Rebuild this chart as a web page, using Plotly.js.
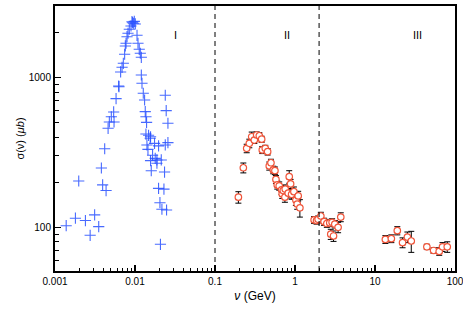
<!DOCTYPE html>
<html>
<head>
<meta charset="utf-8">
<script src="https://cdn.plot.ly/plotly-3.0.1.min.js"></script>
<style>
  html, body { margin: 0; padding: 0; background: #fff; }
  #chart { width: 463px; height: 327px; }
</style>
</head>
<body>
<div id="chart"></div>
<script>
// Region I: photon data, blue crosses (nu in GeV, sigma in microbarn)
const nuI = [0.00917, 0.00961, 0.01009, 0.0093, 0.0098, 0.00891,
  0.00849, 0.00818, 0.00795, 0.00773, 0.00757, 0.00742, 0.00715, 0.00689, 0.00661,
  0.00625, 0.0063, 0.0058, 0.00541, 0.00506, 0.00478, 0.00547, 0.00461, 0.00418,
  0.0038, 0.00394, 0.00435, 0.00198, 0.00313, 0.0018, 0.0024, 0.00138, 0.00352, 0.00275,
  0.0106, 0.0109, 0.0113, 0.01165, 0.012, 0.012, 0.01223, 0.01269, 0.01318, 0.01343,
  0.0137, 0.01395, 0.01478, 0.01565, 0.0137, 0.0155, 0.0141, 0.01452, 0.01755, 0.0197,
  0.0239, 0.0258, 0.01658, 0.0179, 0.01565, 0.0188, 0.0213, 0.0188, 0.01597, 0.0234,
  0.0197, 0.023, 0.0205, 0.0217, 0.0248, 0.0208, 0.0239, 0.02455, 0.0258];
const sigI = [2367, 2310, 2286, 2330, 2380, 2216,
  2106, 1981, 1879, 1698, 1629, 1434, 1248, 1173, 1092,
  880, 870, 724, 590, 548, 506, 506, 459, 335,
  249, 192, 176, 204, 121, 115, 111, 102.5, 101, 88.4,
  1920, 1698, 1548, 1456, 1368, 1042, 918, 787, 709, 593,
  548, 503, 412, 403, 420, 394, 355, 332, 364, 350,
  355, 368, 303, 289, 279, 282, 282, 268, 239, 234,
  182, 180, 146, 132, 130.5, 77, 763, 602, 496];

// Regions II and III: circles with error bars
const nuII = [0.196, 0.226, 0.249, 0.2685, 0.2877, 0.31, 0.332, 0.358, 0.383, 0.39,
  0.425, 0.455, 0.477, 0.5006, 0.535, 0.561, 0.578, 0.6, 0.635, 0.68, 0.692, 0.713,
  0.748, 0.755, 0.823, 0.847, 0.881, 0.907, 0.969, 1.026, 1.065, 1.096, 1.151,
  1.735, 1.86, 1.946, 2.104, 2.31, 2.5, 2.72, 2.8, 2.91, 3.03, 3.145, 3.457, 3.735,
  13.48, 16.0, 19.0, 22.1, 25.4, 28.4, 44.5, 54, 63.5, 69.8, 80];
const sigII = [159, 250, 337, 364, 403, 383, 414, 409, 388, 329,
  337, 320, 257, 270, 242, 239, 209, 192, 189, 178, 167, 176,
  159, 180, 169, 218, 195, 166, 173, 152, 143, 162, 135,
  112, 111, 113, 119, 109, 106, 107, 90, 108, 87.5, 105, 100, 117,
  83, 84, 95, 79, 86, 81, 74, 70, 69, 74, 74];
const errII = [14, 19, 22, 24, 30, 20, 20, 20, 18, 18,
  16, 16, 16, 15, 14, 14, 13, 12, 12, 12, 11, 11,
  12, 12, 12, 21, 14, 12, 13, 12, 11, 12, 18,
  6, 6, 6, 7, 6, 6, 6, 7, 6, 7, 6, 8, 8,
  5, 5, 6, 6, 7, 13, 3, 3, 4, 5, 6];

const regionBounds = [0.1, 2];
const regionLabels = ['I', 'II', 'III'];
const regionLabelNu = [0.032, 0.79, 34];

// axis ranges (log10 units)
const xRange = [-3, 2];
const yRange = [1.708, 3.479];

const font = 'Liberation Sans, Arial, Helvetica, sans-serif';

const traces = [{
  x: nuI, y: sigI,
  type: 'scatter', mode: 'markers',
  marker: {
    symbol: 'cross-thin-open', size: 8, color: 'rgba(40,80,255,0.85)',
    line: { color: 'rgba(40,80,255,0.85)', width: 1.1 }
  }
}, {
  x: nuII, y: sigII,
  type: 'scatter', mode: 'markers',
  error_y: { type: 'data', array: errII, visible: true, color: '#000', thickness: 1, width: 3 },
  marker: {
    symbol: 'circle', size: 6.5, color: '#fff',
    line: { color: '#f0553a', width: 1.2 }
  }
}];

// shapes on log axes take data values in plotly v3
const shapes = regionBounds.map(b => ({
  type: 'line', xref: 'x', yref: 'paper',
  x0: b, x1: b, y0: 0, y1: 1,
  line: { color: '#000', width: 1, dash: '5px,4px' }
}));

const annotations = regionLabels.map((t, i) => ({
  text: t, xref: 'x', yref: 'paper',
  x: Math.log10(regionLabelNu[i]), y: 0.92,
  showarrow: false, font: { family: font, size: 11, color: '#000' }
}));

const axisBase = {
  type: 'log',
  tickmode: 'linear', tick0: 0, dtick: 1,
  ticks: 'inside', ticklen: 6, tickwidth: 1.5, tickcolor: '#000',
  minor: { dtick: 'D1', ticks: 'inside', ticklen: 3.5, tickwidth: 1, tickcolor: '#000', showgrid: false },
  layer: 'above traces',
  showgrid: false, zeroline: false,
  showline: true, mirror: true, linecolor: '#000', linewidth: 2,
  tickfont: { family: font, size: 10, color: '#000' },
  ticklabeloverflow: 'allow'
};

const layout = {
  width: 463, height: 327,
  margin: { l: 55, r: 8, t: 6, b: 56 },
  paper_bgcolor: '#fff', plot_bgcolor: '#fff',
  showlegend: false,
  xaxis: Object.assign({}, axisBase, {
    range: xRange, automargin: 'bottom',
    title: { text: '<i>ν</i> (GeV)', standoff: 6, font: { family: font, size: 12, color: '#000' } }
  }),
  yaxis: Object.assign({}, axisBase, {
    range: yRange, automargin: 'left',
    title: { text: 'σ(ν) (<i>μb</i>)', standoff: 2, font: { family: font, size: 11, color: '#000' } }
  }),
  shapes: shapes,
  annotations: annotations
};

Plotly.newPlot('chart', traces, layout, { displayModeBar: false, staticPlot: true });
</script>
</body>
</html>
